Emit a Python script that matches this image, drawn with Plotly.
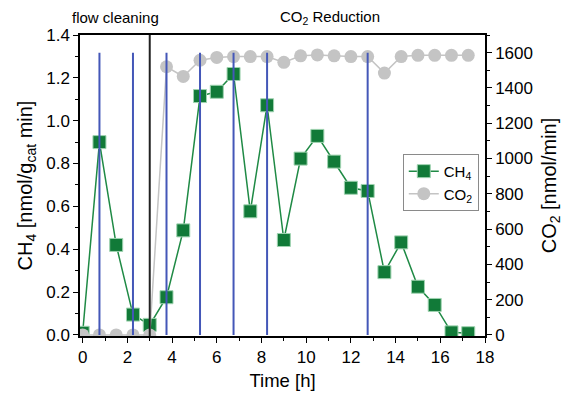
import plotly.graph_objects as go

time_h = [0, 0.75, 1.5, 2.25, 3.0, 3.75, 4.5, 5.25, 6.0, 6.75, 7.5, 8.25, 9.0,
          9.75, 10.5, 11.25, 12.0, 12.75, 13.5, 14.25, 15.0, 15.75, 16.5, 17.25]
ch4 = [0.01, 0.90, 0.42, 0.095, 0.047, 0.176, 0.488, 1.115, 1.135, 1.218, 0.577, 1.072, 0.443,
       0.823, 0.929, 0.809, 0.687, 0.672, 0.293, 0.432, 0.225, 0.14, 0.012, 0.008]
co2 = [0, 0, 0, 0, 0, 1520, 1465, 1557, 1573, 1578, 1578, 1578, 1545,
       1582, 1587, 1582, 1578, 1578, 1484, 1578, 1585, 1585, 1585, 1585]
sample_times = [0.75, 2.25, 3.75, 5.25, 6.75, 8.25, 12.75]
sample_top = 1600
phase_switch = 3.0

FONT = "Liberation Sans, Arial, sans-serif"
green_line = "#1f8a45"
green_fill = "#117a38"
gray = "#c4c4c4"
blue = "#4457b8"

fig = go.Figure()
fig.add_trace(go.Scatter(
    x=time_h, y=co2, name="CO<sub>2</sub>", yaxis="y2", mode="lines+markers",
    line=dict(color=gray, width=1.5),
    marker=dict(symbol="circle", size=13, color=gray, line=dict(width=0))))
fig.add_trace(go.Scatter(
    x=time_h, y=ch4, name="CH<sub>4</sub>", mode="lines+markers",
    line=dict(color=green_line, width=1.5),
    marker=dict(symbol="square", size=13, color=green_fill, line=dict(width=1, color="#9fd3b0"))))

for t in sample_times:
    fig.add_shape(type="line", xref="x", yref="y2", x0=t, x1=t, y0=0, y1=sample_top,
                  line=dict(color=blue, width=2), layer="above")
fig.add_shape(type="line", xref="x", yref="paper", x0=phase_switch, x1=phase_switch, y0=0, y1=1,
              line=dict(color="#222222", width=2), layer="above")

fig.add_annotation(text="flow cleaning", xref="paper", yref="paper", x=-0.025, y=1.058,
                   xanchor="left", yanchor="middle", showarrow=False,
                   font=dict(family=FONT, size=15, color="black"))
fig.add_annotation(text="CO<sub>2</sub> Reduction", xref="paper", yref="paper", x=0.489, y=1.058,
                   xanchor="left", yanchor="middle", showarrow=False,
                   font=dict(family=FONT, size=15, color="black"))

axis_common = dict(showgrid=False, zeroline=False, showline=True, linecolor="black", linewidth=1.5,
                   ticks="outside", ticklen=5, tickwidth=1.2, tickcolor="black", automargin=False,
                   tickfont=dict(family=FONT, size=17, color="black"))

fig.update_layout(
    width=563, height=395,
    margin=dict(l=80, r=78, t=35, b=59),
    plot_bgcolor="white", paper_bgcolor="white",
    font=dict(family=FONT, color="black"),
    xaxis=dict(range=[-0.12, 18], dtick=2, tick0=0, mirror=True,
               minor=dict(dtick=1, ticklen=3, ticks="outside", tickcolor="black"),
               title=dict(text="Time [h]", font=dict(family=FONT, size=18.5), standoff=8),
               **axis_common),
    yaxis=dict(range=[-0.005, 1.4], dtick=0.2, tick0=0, tickformat=".1f",
               minor=dict(dtick=0.1, ticklen=3, ticks="outside", tickcolor="black"),
               title=dict(text="CH<sub>4</sub> [nmol/g<sub>cat</sub> min]",
                          font=dict(family=FONT, size=20), standoff=8),
               **axis_common),
    yaxis2=dict(range=[-6, 1700], dtick=200, tick0=0, overlaying="y", side="right",
                minor=dict(dtick=100, ticklen=3, ticks="outside", tickcolor="black"),
                title=dict(text="CO<sub>2</sub> [nmol/min]", font=dict(family=FONT, size=20), standoff=14),
                **axis_common),
    legend=dict(x=0.797, y=0.605, xanchor="left", yanchor="top",
                bordercolor="#8a8a8a", borderwidth=1, bgcolor="white",
                font=dict(family=FONT, size=15), traceorder="reversed",
                itemwidth=30, tracegroupgap=2),
    showlegend=True,
)

fig.write_html("out.html")
